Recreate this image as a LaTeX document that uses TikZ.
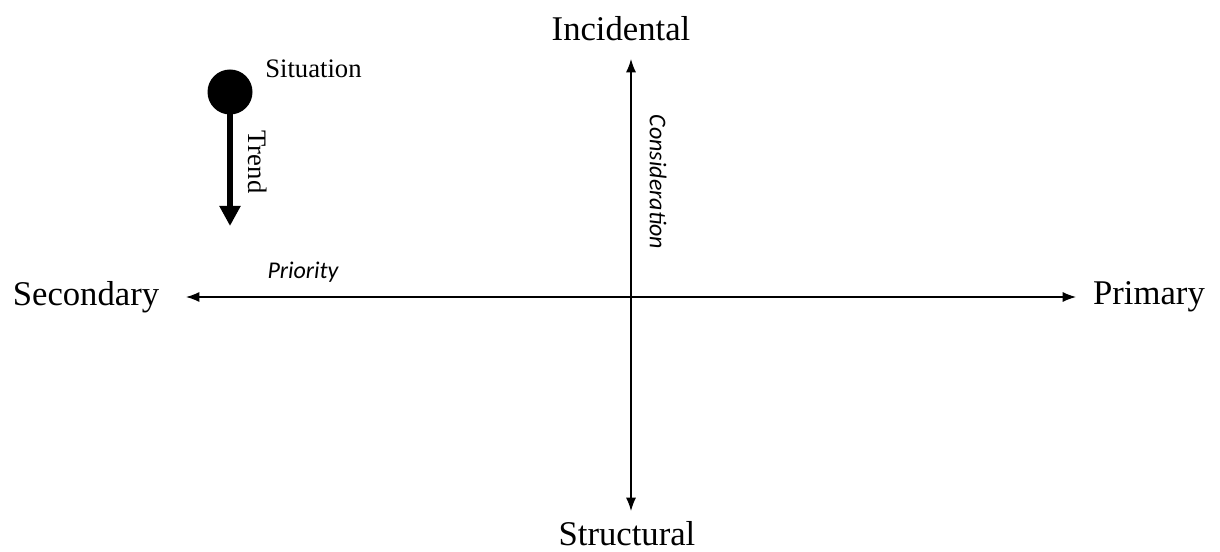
\documentclass[tikz,border=0pt]{standalone}
\usepackage{fontspec}
\setmainfont{Liberation Serif}
\newfontfamily\labelit{Carlito}[ItalicFont={* Italic}]
\usetikzlibrary{arrows.meta}
\begin{document}
\begin{tikzpicture}[x=0.75pt,y=-0.75pt,
  pole/.style={font=\fontsize{26}{30}\selectfont, inner sep=0pt},
  axislbl/.style={font=\labelit\itshape\fontsize{18}{22}\selectfont, inner sep=0pt},
  smalllbl/.style={font=\fontsize{20}{24}\selectfont, inner sep=0pt},
  axis/.style={line width=0.9pt, {Latex[length=10pt,width=7.5pt]}-{Latex[length=10pt,width=7.5pt]}}]
  \useasboundingbox (0,0) rectangle (1220,552);
  % axis end labels
  \node[pole] (sec) at (86,297) {Secondary};
  \node[pole] (pri) at (1149,297) {Primary};
  \node[pole] (inc) at (621,29) {Incidental};
  \node[pole, anchor=base] (str) at (627,545) {Structural};
  % axis end points
  \coordinate (left) at (186,297);
  \coordinate (right) at (1076,297);
  \coordinate (top) at (631,59);
  \coordinate (bottom) at (631,511);
  \draw[axis] (left) -- (right);
  \draw[axis] (bottom) -- (top);
  % axis names
  \node[axislbl] (prio) at (303,272) {Priority};
  \node[axislbl, rotate=-90] (cons) at (658,182) {Consideration};
  % situation marker and its trend
  \node[circle, fill=black, minimum size=45pt*0.75, inner sep=0pt] (sit) at (230,92) {};
  \coordinate (trendend) at (230,226);
  \draw[line width=4pt, -{Triangle[length=15pt,width=15pt]}] (sit.center) -- (trendend);
  \node[smalllbl, anchor=south west] (sitlbl) at (265,78) {Situation};
  \node[smalllbl, rotate=-90] (trend) at (258,162) {Trend};
\end{tikzpicture}
\end{document}
